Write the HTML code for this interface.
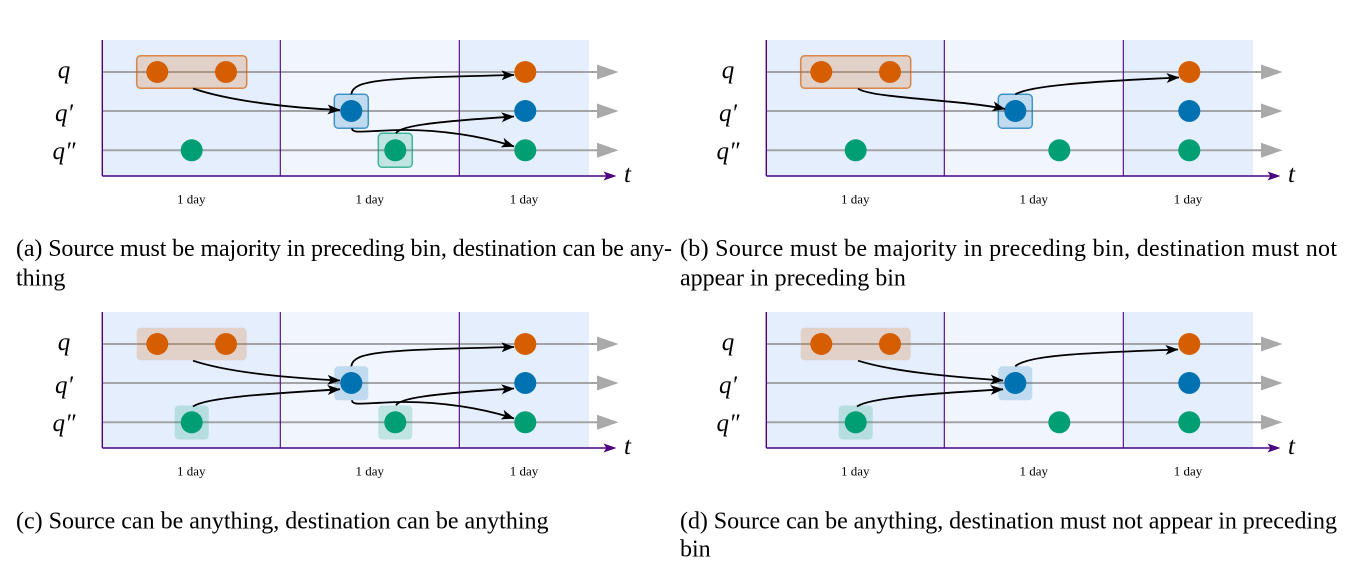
<!DOCTYPE html>
<html>
<head>
<meta charset="utf-8">
<style>
  html,body{margin:0;padding:0;background:#fff;}
  svg{display:block;}
  .lbl{font-family:"Liberation Serif","DejaVu Serif",serif;font-style:italic;font-size:25px;fill:#000;}
  .day{font-family:"Liberation Serif","DejaVu Serif",serif;font-size:13px;fill:#000;}
  .tl{font-family:"Liberation Serif","DejaVu Serif",serif;font-style:italic;font-size:25px;fill:#000;}
  .cap{font-family:"Liberation Serif","DejaVu Serif",serif;font-size:24px;fill:#000;}
  .arr{fill:none;stroke:#000;stroke-width:1.8;marker-end:url(#ah);}
</style>
</head>
<body>
<svg width="1349" height="564" viewBox="0 0 1349 564" xmlns="http://www.w3.org/2000/svg">
<defs>
  <marker id="ah" viewBox="0 0 13 11" refX="12.5" refY="5.5" markerWidth="13" markerHeight="11" orient="auto" markerUnits="userSpaceOnUse">
    <path d="M0,0.5 L13,5.5 L0,10.5 L3.2,5.5 Z" fill="#000"/>
  </marker>
  <g id="base">
    <rect x="102.3" y="40" width="178" height="136" fill="#e4eefc"/>
    <rect x="280.3" y="40" width="179" height="136" fill="#f0f5fe"/>
    <rect x="459.3" y="40" width="129.7" height="136" fill="#e4eefc"/>
    <g stroke="#a3a4a8" stroke-width="2">
      <line x1="102" y1="72" x2="599" y2="72"/>
      <line x1="102" y1="111" x2="599" y2="111"/>
      <line x1="102" y1="150.3" x2="599" y2="150.3"/>
    </g>
    <g fill="#a9a9a9">
      <polygon points="597,64.5 618.5,72 597,79.5"/>
      <polygon points="597,103.5 618.5,111 597,118.5"/>
      <polygon points="597,142.8 618.5,150.3 597,157.8"/>
    </g>
    <g stroke="#4b0082">
      <line x1="102.3" y1="40" x2="102.3" y2="176" stroke-width="1.4"/>
      <line x1="280.3" y1="40" x2="280.3" y2="176" stroke-width="1.1"/>
      <line x1="459.3" y1="40" x2="459.3" y2="176" stroke-width="1.1"/>
      <line x1="102.3" y1="176" x2="610" y2="176" stroke-width="1.5"/>
    </g>
    <polygon points="603.5,171.5 616.5,176 603.5,180.5 606.5,176" fill="#4b0082"/>
  </g>
  <g id="dotsL">
    <circle cx="157.3" cy="72" r="11" fill="#d55e00"/>
    <circle cx="226" cy="72" r="11" fill="#d55e00"/>
    <circle cx="191.7" cy="150.3" r="11" fill="#009e73"/>
    <circle cx="351.3" cy="111" r="11" fill="#0072b2"/>
    <circle cx="395.3" cy="150.3" r="11" fill="#009e73"/>
    <circle cx="525.3" cy="72" r="11" fill="#d55e00"/>
    <circle cx="525.3" cy="111" r="11" fill="#0072b2"/>
    <circle cx="525.3" cy="150.3" r="11" fill="#009e73"/>
  </g>
</defs>

<!-- Panel (a) -->
<g transform="translate(0,0)">
  <use href="#base"/>
  <rect x="136.7" y="55.7" width="110" height="32.6" rx="4" fill="#d55e00" fill-opacity="0.2" stroke="#d55e00" stroke-opacity="0.7" stroke-width="1.5"/>
  <rect x="334.3" y="94.3" width="34" height="34" rx="4" fill="#0072b2" fill-opacity="0.2" stroke="#0072b2" stroke-opacity="0.7" stroke-width="1.5"/>
  <rect x="378.3" y="133.3" width="34" height="34" rx="4" fill="#009e73" fill-opacity="0.2" stroke="#009e73" stroke-opacity="0.7" stroke-width="1.5"/>
  <use href="#dotsL"/>
  <path class="arr" d="M193,88.5 C230,101 290,108 340,110"/>
  <path class="arr" d="M351.3,94.3 C353,80 380,78 514,75"/>
  <path class="arr" d="M352,128.3 C352,134 362,131 400,130 C440,129.5 482,136 514,146.5"/>
  <path class="arr" d="M396,133.3 C400,126 430,122 514,116.5"/>
  <text class="lbl" x="64" y="78" text-anchor="middle">q</text>
  <text class="lbl" x="64" y="121" text-anchor="middle">q′</text>
  <text class="lbl" x="64" y="159" text-anchor="middle">q″</text>
  <text class="day" x="191.3" y="203.5" text-anchor="middle">1 day</text>
  <text class="day" x="369.8" y="203.5" text-anchor="middle">1 day</text>
  <text class="day" x="524" y="203.5" text-anchor="middle">1 day</text>
  <text class="tl" x="627.5" y="182" text-anchor="middle">t</text>
</g>

<!-- Panel (b) -->
<g transform="translate(664,0)">
  <use href="#base"/>
  <rect x="136.7" y="55.7" width="110" height="32.6" rx="4" fill="#d55e00" fill-opacity="0.2" stroke="#d55e00" stroke-opacity="0.7" stroke-width="1.5"/>
  <rect x="334.3" y="94.3" width="34" height="34" rx="4" fill="#0072b2" fill-opacity="0.2" stroke="#0072b2" stroke-opacity="0.7" stroke-width="1.5"/>
  <use href="#dotsL"/>
  <path class="arr" d="M194,88.5 C205,98 300,100 341,109"/>
  <path class="arr" d="M351.3,94.3 C366,86 416,82 515,77.5"/>
  <text class="lbl" x="64" y="78" text-anchor="middle">q</text>
  <text class="lbl" x="64" y="121" text-anchor="middle">q′</text>
  <text class="lbl" x="64" y="159" text-anchor="middle">q″</text>
  <text class="day" x="191.3" y="203.5" text-anchor="middle">1 day</text>
  <text class="day" x="369.8" y="203.5" text-anchor="middle">1 day</text>
  <text class="day" x="524" y="203.5" text-anchor="middle">1 day</text>
  <text class="tl" x="627.5" y="182" text-anchor="middle">t</text>
</g>

<!-- Panel (c) -->
<g transform="translate(0,272)">
  <use href="#base"/>
  <rect x="136.7" y="55.7" width="110" height="32.6" rx="4" fill="#d55e00" fill-opacity="0.2"/>
  <rect x="334.3" y="94.3" width="34" height="34" rx="4" fill="#0072b2" fill-opacity="0.2"/>
  <rect x="174.7" y="133.5" width="34" height="34" rx="4" fill="#009e73" fill-opacity="0.2"/>
  <rect x="378.3" y="133.5" width="34" height="34" rx="4" fill="#009e73" fill-opacity="0.2"/>
  <use href="#dotsL"/>
  <path class="arr" d="M193,88.7 C230,101 290,106 340,108.5"/>
  <path class="arr" d="M193,134.5 C205,126 260,122 340,117.3"/>
  <path class="arr" d="M351.3,94.3 C353,80 380,78 514,75"/>
  <path class="arr" d="M352,128.3 C352,134 362,131 400,130 C440,129.5 482,136 514,146.5"/>
  <path class="arr" d="M396,133.3 C400,126 430,122 514,116.5"/>
  <text class="lbl" x="64" y="78" text-anchor="middle">q</text>
  <text class="lbl" x="64" y="121" text-anchor="middle">q′</text>
  <text class="lbl" x="64" y="159" text-anchor="middle">q″</text>
  <text class="day" x="191.3" y="203.5" text-anchor="middle">1 day</text>
  <text class="day" x="369.8" y="203.5" text-anchor="middle">1 day</text>
  <text class="day" x="524" y="203.5" text-anchor="middle">1 day</text>
  <text class="tl" x="627.5" y="182" text-anchor="middle">t</text>
</g>

<!-- Panel (d) -->
<g transform="translate(664,272)">
  <use href="#base"/>
  <rect x="136.7" y="55.7" width="110" height="32.6" rx="4" fill="#d55e00" fill-opacity="0.2"/>
  <rect x="334.3" y="94.3" width="34" height="34" rx="4" fill="#0072b2" fill-opacity="0.2"/>
  <rect x="174.7" y="133.5" width="34" height="34" rx="4" fill="#009e73" fill-opacity="0.2"/>
  <use href="#dotsL"/>
  <path class="arr" d="M194,88.7 C230,100 290,105 339,108.5"/>
  <path class="arr" d="M193,134.5 C205,126 260,122 339,117.3"/>
  <path class="arr" d="M351.3,94.3 C362,84 410,81 514,77.5"/>
  <text class="lbl" x="64" y="78" text-anchor="middle">q</text>
  <text class="lbl" x="64" y="121" text-anchor="middle">q′</text>
  <text class="lbl" x="64" y="159" text-anchor="middle">q″</text>
  <text class="day" x="191.3" y="203.5" text-anchor="middle">1 day</text>
  <text class="day" x="369.8" y="203.5" text-anchor="middle">1 day</text>
  <text class="day" x="524" y="203.5" text-anchor="middle">1 day</text>
  <text class="tl" x="627.5" y="182" text-anchor="middle">t</text>
</g>

<!-- Captions -->
<text class="cap" x="16" y="256" textLength="656" lengthAdjust="spacing">(a) Source must be majority in preceding bin, destination can be any-</text>
<text class="cap" x="16" y="285.5">thing</text>
<text class="cap" x="680" y="256" textLength="657" lengthAdjust="spacing">(b) Source must be majority in preceding bin, destination must not</text>
<text class="cap" x="680" y="285.5">appear in preceding bin</text>
<text class="cap" x="16" y="528.5">(c) Source can be anything, destination can be anything</text>
<text class="cap" x="680" y="528.5" textLength="657" lengthAdjust="spacing">(d) Source can be anything, destination must not appear in preceding</text>
<text class="cap" x="680" y="556.5">bin</text>
</svg>
</body>
</html>
